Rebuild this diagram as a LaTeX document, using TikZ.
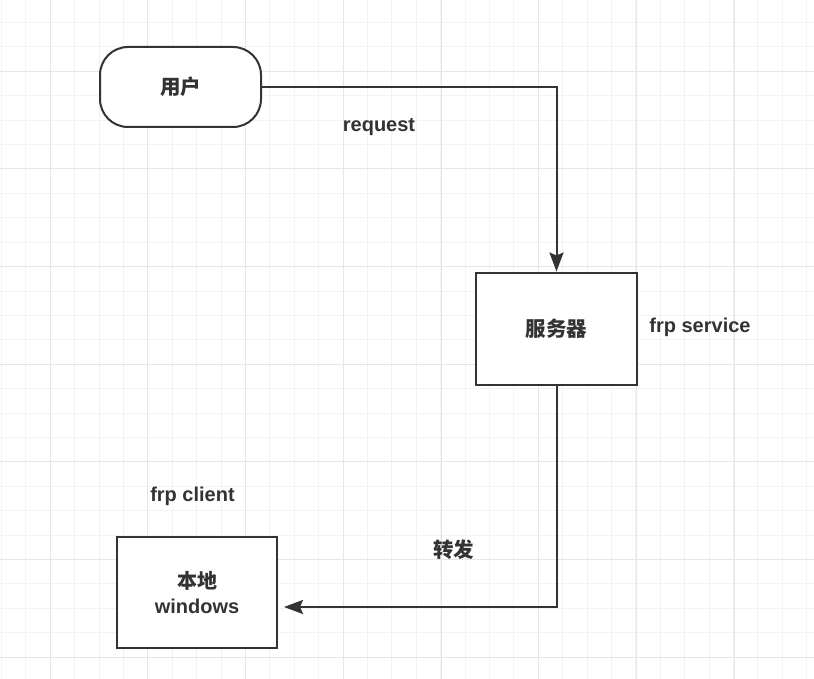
\documentclass[tikz,border=0pt]{standalone}
\usepackage{fontspec}
\setmainfont{Liberation Sans}
\newfontfamily\cjk{Noto Sans CJK SC}
\usetikzlibrary{arrows.meta}
\definecolor{ink}{HTML}{333333}
\definecolor{gminor}{HTML}{F3F3F3}
\definecolor{gmajor}{HTML}{E6E6E6}
\tikzset{
  shapebox/.style={draw=ink, line width=2pt, fill=white, inner sep=0pt, text=ink, align=center},
  term/.style={shapebox, rounded corners=28pt, minimum width=161pt, minimum height=80pt},
  rectbox/.style={shapebox, minimum width=161pt, minimum height=112pt},
  conn/.style={draw=ink, line width=2pt, -{Stealth[length=19pt,width=14pt,inset=3pt]}},
  lbl/.style={text=ink, inner sep=0pt}
}
\begin{document}
\begin{tikzpicture}[x=1pt,y=-1pt,font=\fontsize{20}{25}\selectfont\bfseries]
\fill[white] (0,0) rectangle (814,679);
\useasboundingbox (0,0) rectangle (814,679);
% grid
\foreach \i in {0,...,33} \draw[gminor, line width=1pt] ({1.4+24.4*\i},0) -- ++(0,679);
\foreach \j in {0,...,28} \draw[gminor, line width=1pt] (0,{-1.8+24.4*\j}) -- ++(814,0);
\foreach \i in {0,...,7} \draw[gmajor, line width=1pt] ({50.2+97.7*\i},0) -- ++(0,679);
\foreach \j in {0,...,6} \draw[gmajor, line width=1pt] (0,{71.4+97.6*\j}) -- ++(814,0);
% nodes
\node[term] (user) at (180.5,87) {{\cjk\fontsize{20.5}{25}\selectfont 用户}};
\node[rectbox] (srv) at (556.5,328.5) {{\cjk\fontsize{20.5}{25}\selectfont 服务器}};
\node[rectbox, minimum width=160pt, minimum height=111pt] (loc) at (197,592.5) {{\cjk 本地}\\windows};
% labels
\node[lbl] (req) at (379,127) {request};
\node[lbl] (svc) at (700,327) {frp service};
\node[lbl] (cli) at (192.5,496) {frp client};
\node[lbl] (fwd) at (453.5,549.5) {{\cjk\fontsize{20.5}{25}\selectfont 转发}};
% connectors
\draw[conn] (user.east) -| (srv.north);
\draw[conn] (srv.south) |- ([xshift=6pt,yshift=-14.5pt]loc.east);
\end{tikzpicture}
\end{document}
